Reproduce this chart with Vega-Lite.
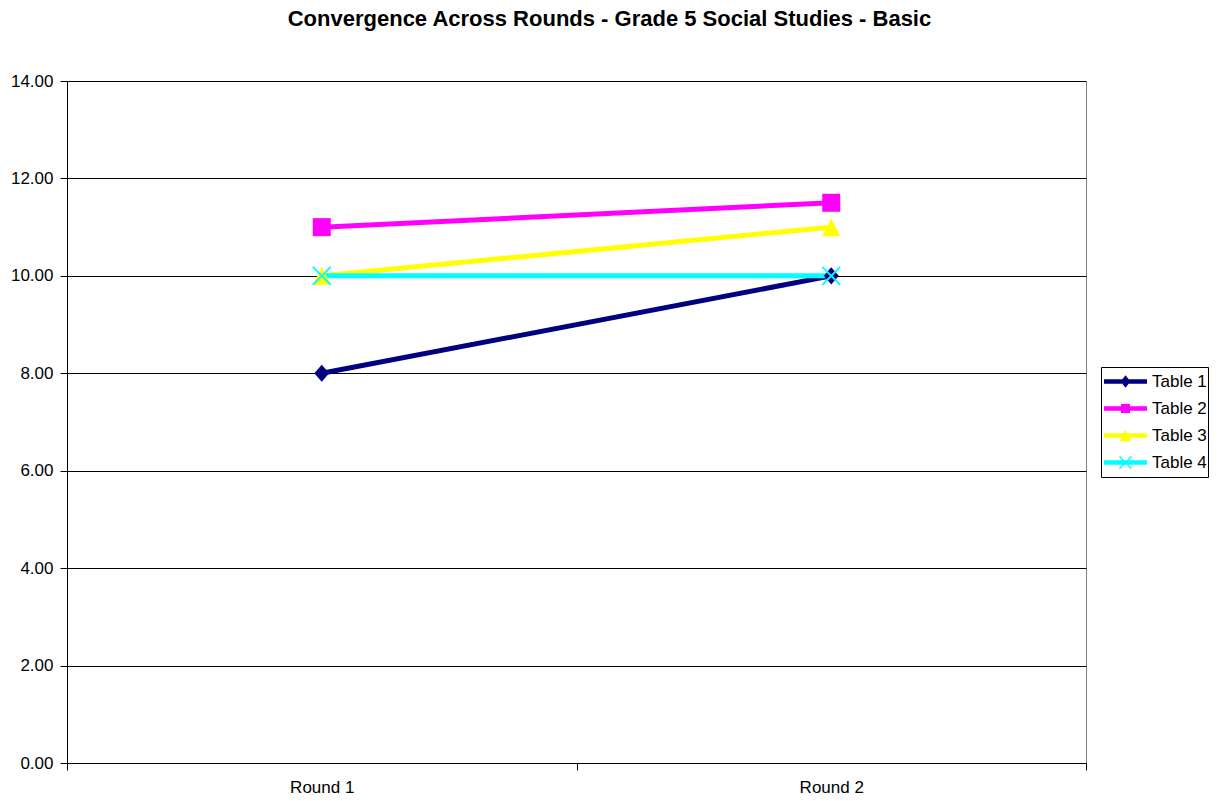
{
  "$schema": "https://vega.github.io/schema/vega-lite/v6.json",
  "width": 1019,
  "height": 682,
  "autosize": {"type": "none"},
  "padding": {"left": 67, "top": 81, "right": 135, "bottom": 38},
  "background": "white",
  "title": {
    "text": "Convergence Across Rounds - Grade 5 Social Studies - Basic",
    "font": "Liberation Sans",
    "fontSize": 22,
    "fontWeight": "bold",
    "color": "black",
    "anchor": "middle",
    "frame": "bounds",
    "baseline": "alphabetic",
    "offset": 24
  },
  "config": {
    "view": {"stroke": "#808080", "strokeWidth": 1},
    "font": "Liberation Sans",
    "axis": {
      "labelFont": "Liberation Sans",
      "labelFontSize": 17,
      "labelColor": "black",
      "domainColor": "black",
      "tickColor": "black",
      "tickSize": 7,
      "domainWidth": 1,
      "tickWidth": 1
    }
  },
  "data": {
    "values": [
      {"series": "Table 1", "round": "Round 1", "value": 8},
      {"series": "Table 1", "round": "Round 2", "value": 10},
      {"series": "Table 2", "round": "Round 1", "value": 11},
      {"series": "Table 2", "round": "Round 2", "value": 11.5},
      {"series": "Table 3", "round": "Round 1", "value": 10},
      {"series": "Table 3", "round": "Round 2", "value": 11},
      {"series": "Table 4", "round": "Round 1", "value": 10},
      {"series": "Table 4", "round": "Round 2", "value": 10}
    ]
  },
  "encoding": {
    "x": {
      "field": "round",
      "type": "nominal",
      "sort": ["Round 1", "Round 2"],
      "scale": {"type": "band", "paddingInner": 0, "paddingOuter": 0},
      "axis": {
        "title": null,
        "labelAngle": 0,
        "tickBand": "extent",
        "grid": false,
        "labelPadding": 9
      }
    },
    "y": {
      "field": "value",
      "type": "quantitative",
      "scale": {"domain": [0, 14], "nice": false, "zero": true},
      "axis": {
        "title": null,
        "values": [0, 2, 4, 6, 8, 10, 12, 14],
        "format": ".2f",
        "labelPadding": 7,
        "grid": true,
        "gridColor": "black",
        "gridWidth": 1
      }
    },
    "color": {
      "field": "series",
      "type": "nominal",
      "scale": {
        "domain": ["Table 1", "Table 2", "Table 3", "Table 4"],
        "range": ["#000080", "#FF00FF", "#FFFF00", "#00FFFF"]
      },
      "legend": {
        "title": null,
        "orient": "none",
        "legendX": 1034,
        "legendY": 286,
        "padding": 1,
        "symbolSize": 1849,
        "symbolStrokeWidth": 0,
        "symbolOpacity": 1,
        "clipHeight": 27,
        "rowPadding": 0,
        "symbolOffset": 2,
        "labelOffset": 5,
        "labelFont": "Liberation Sans",
        "labelFontSize": 17,
        "labelColor": "black",
        "strokeColor": "black",
        "fillColor": "white"
      }
    }
  },
  "layer": [
    {
      "mark": {"type": "line", "strokeWidth": 5}
    },
    {
      "transform": [{"filter": "datum.series === 'Table 1'"}],
      "mark": {"type": "point", "filled": true, "size": 324, "opacity": 1, "strokeWidth": 0, "shape": "M0,-0.95L0.83,0L0,0.95L-0.83,0Z"}
    },
    {
      "transform": [{"filter": "datum.series === 'Table 2'"}],
      "mark": {"type": "point", "filled": true, "size": 324, "opacity": 1, "strokeWidth": 0, "shape": "M-1,-1H1V1H-1Z"}
    },
    {
      "transform": [{"filter": "datum.series === 'Table 3'"}],
      "mark": {"type": "point", "filled": true, "size": 324, "opacity": 1, "strokeWidth": 0, "shape": "M0,-1L1,1L-1,1Z"}
    },
    {
      "transform": [{"filter": "datum.series === 'Table 4'"}],
      "mark": {"type": "point", "filled": true, "size": 324, "opacity": 1, "strokeWidth": 0, "shape": "M-0.922,-1.078L1.078,0.922L0.922,1.078L-1.078,-0.922ZM-1.078,0.922L0.922,-1.078L1.078,-0.922L-0.922,1.078Z"}
    },
    {
      "transform": [{"filter": "false"}],
      "mark": {"type": "point", "filled": true, "opacity": 1, "strokeWidth": 0},
      "encoding": {
        "shape": {
          "field": "series",
          "type": "nominal",
          "scale": {
            "domain": ["Table 1", "Table 2", "Table 3", "Table 4"],
            "range": [
              "M-1,-0.1H1V0.1H-1ZM0,-0.29L0.23,0L0,0.29L-0.23,0Z",
              "M-1,-0.1H1V0.1H-1ZM-0.21,-0.21H0.21V0.21H-0.21Z",
              "M-1,-0.1H1V0.1H-1ZM0,-0.27L0.27,0.27L-0.27,0.27Z",
              "M-1,-0.1H1V0.1H-1ZM-0.255,-0.305L0.305,0.255L0.255,0.305L-0.305,-0.255ZM-0.305,0.255L0.255,-0.305L0.305,-0.255L-0.255,0.305Z"
            ]
          },
          "legend": null
        }
      }
    }
  ]
}
